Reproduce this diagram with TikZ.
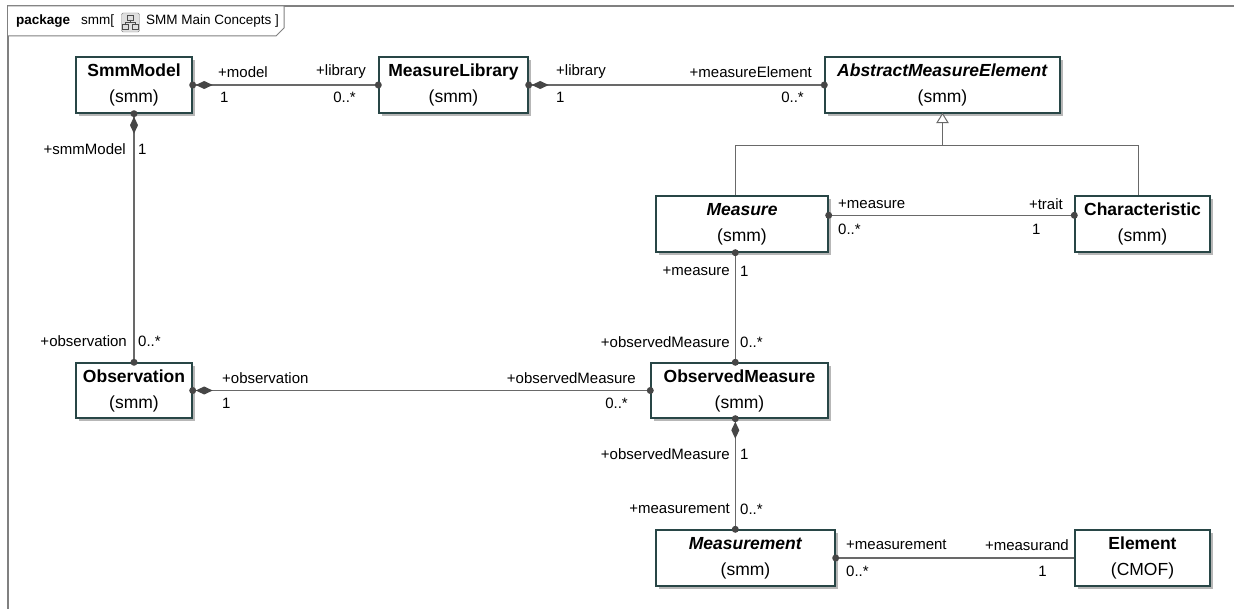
\documentclass[tikz,border=0pt]{standalone}
\usepackage{fontspec}
\setmainfont{Liberation Sans}
\usetikzlibrary{shadows,calc}
\definecolor{boxline}{RGB}{40,70,70}
\definecolor{connc}{RGB}{105,105,105}
\definecolor{ballc}{RGB}{70,70,70}
\definecolor{framec}{RGB}{128,128,128}
\tikzset{
  umlbox/.style={draw=boxline, line width=1.4pt, fill=white, minimum height=56pt,
    inner sep=0pt, align=center, font=\fontsize{17.5}{26}\selectfont,
    drop shadow={shadow xshift=3pt, shadow yshift=-3pt, fill=black!40, opacity=0.7}},
  link/.style={draw=connc, line width=1.3pt},
  lbl/.style={font=\fontsize{15}{18}\selectfont, inner sep=0pt, text=black},
  hdr/.style={font=\fontsize{13.5}{15}\selectfont, inner sep=0pt, anchor=west},
}
\newcommand{\umlball}[1]{\fill[ballc] #1 circle (3.5);}
\newcommand{\umlcomp}[2]{\begin{scope}[shift={#1}, rotate=#2]
  \fill[ballc] (0,0) circle (3.5);
  \fill[ballc] (3,0) -- (11.5,4) -- (20,0) -- (11.5,-4) -- cycle;
\end{scope}}
\begin{document}
\begin{tikzpicture}[x=1pt,y=1pt]
\useasboundingbox (0,0) rectangle (1234,-609);
% frame
\draw[framec, line width=2pt] (8,-612) -- (8,-6) -- (1237,-6);
\draw[framec, line width=1pt, fill=white] (8,-6) -- (284,-6) -- (284,-28) -- (276,-36) -- (8,-36);
\node[hdr] (hdrA) at (16,-21) {\textbf{package}};
\node[hdr] (hdrS) at (81,-21) {smm[};
\node[draw=gray, fill=gray!25, rounded corners=1.5pt, minimum width=18pt, minimum height=19pt, inner sep=0pt] (icon) at (130.5,-22.5) {};
\draw[black!70, line width=0.6pt] ($(icon.center)+(-3,7)$) rectangle ($(icon.center)+(3,2.5)$)
  ($(icon.center)+(0,2.5)$) -- ($(icon.center)+(0,0)$)
  ($(icon.center)+(-5,0)$) -- ($(icon.center)+(5,0)$)
  ($(icon.center)+(-5,0)$) -- ($(icon.center)+(-5,-2)$)
  ($(icon.center)+(5,0)$) -- ($(icon.center)+(5,-2)$)
  ($(icon.center)+(-8,-2)$) rectangle ($(icon.center)+(-2,-7)$)
  ($(icon.center)+(2,-2)$) rectangle ($(icon.center)+(8,-7)$);
\node[hdr] (hdrB) at (146,-21) {SMM Main Concepts ]};

% boxes
\node[umlbox, minimum width=116pt] (smm) at (134,-85) {\textbf{SmmModel}\\(smm)};
\node[umlbox, minimum width=149pt] (lib) at (453.5,-85) {\textbf{MeasureLibrary}\\(smm)};
\node[umlbox, minimum width=235pt] (ame) at (942.5,-85) {\textbf{\textit{AbstractMeasureElement}}\\(smm)};
\node[umlbox, minimum width=172pt] (mea) at (742,-224) {\textbf{\textit{Measure}}\\(smm)};
\node[umlbox, minimum width=135pt] (chr) at (1142.5,-224) {\textbf{Characteristic}\\(smm)};
\node[umlbox, minimum width=116pt, minimum height=55pt] (obs) at (134,-390.5) {\textbf{Observation}\\(smm)};
\node[umlbox, minimum width=177pt, minimum height=55pt] (om) at (739.5,-390.5) {\textbf{ObservedMeasure}\\(smm)};
\node[umlbox, minimum width=179pt] (mnt) at (745.5,-558) {\textbf{\textit{Measurement}}\\(smm)};
\node[umlbox, minimum width=135pt] (elm) at (1142.5,-558) {\textbf{Element}\\(CMOF)};

% SmmModel -- MeasureLibrary
\draw[link] (smm.east) -- (lib.west);
\umlcomp{(smm.east)}{0}
\umlball{(lib.west)}
\node[lbl, anchor=west] (l1) at (218,-72) {+model};
\node[lbl, anchor=west] (l2) at (220,-97) {1};
\node[lbl, anchor=east] (l3) at (366,-72) {+library};
\node[lbl, anchor=east] (l4) at (356,-97) {0..*};

% MeasureLibrary -- AbstractMeasureElement
\draw[link] (lib.east) -- (ame.west);
\umlcomp{(lib.east)}{0}
\umlball{(ame.west)}
\node[lbl, anchor=west] (l5) at (556,-72) {+library};
\node[lbl, anchor=west] (l6) at (556,-97) {1};
\node[lbl, anchor=east] (l7) at (812,-72) {+measureElement};
\node[lbl, anchor=east] (l8) at (804,-97) {0..*};

% SmmModel -- Observation
\draw[link] (smm.south) -- (obs.north);
\umlcomp{(smm.south)}{-90}
\umlball{(obs.north)}
\node[lbl, anchor=east] (l9) at (126,-149) {+smmModel};
\node[lbl, anchor=west] (l10) at (138,-149) {1};
\node[lbl, anchor=east] (l11) at (127,-341) {+observation};
\node[lbl, anchor=west] (l12) at (138,-341) {0..*};

% Observation -- ObservedMeasure
\draw[link] (obs.east) -- (om.west);
\umlcomp{(obs.east)}{0}
\umlball{(om.west)}
\node[lbl, anchor=west] (l13) at (222,-378) {+observation};
\node[lbl, anchor=west] (l14) at (222,-403) {1};
\node[lbl, anchor=east] (l15) at (636,-378) {+observedMeasure};
\node[lbl, anchor=east] (l16) at (628,-403) {0..*};

% generalization
\coordinate (gtip) at (ame.south);
\coordinate (gbase) at ($(ame.south)+(0,-9)$);
\coordinate (gjoin) at ($(ame.south)+(0,-32)$);
\coordinate (mtop) at ($(mea.north west)+(80,0)$);
\coordinate (ctop) at ($(chr.north west)+(64,0)$);
\draw[link] (gbase) -- (gjoin);
\draw[link] (mtop) |- (gjoin) -| (ctop);
\draw[link, fill=white, line width=1pt] (gtip) -- ($(gbase)+(5.5,0)$) -- ($(gbase)+(-5.5,0)$) -- cycle;

% Measure -- Characteristic
\coordinate (mright) at ($(mea.north east)+(0,-20)$);
\coordinate (cleft) at ($(chr.north west)+(0,-20)$);
\draw[link] (mright) -- (cleft);
\umlball{(mright)}
\umlball{(cleft)}
\node[lbl, anchor=west] (l17) at (838,-204) {+measure};
\node[lbl, anchor=west] (l18) at (838,-229) {0..*};
\node[lbl, anchor=east] (l19) at (1063,-204) {+trait};
\node[lbl, anchor=west] (l20) at (1032,-229) {1};

% Measure -- ObservedMeasure
\coordinate (mbot) at ($(mea.south west)+(80,0)$);
\coordinate (omtop) at (mbot |- om.north);
\draw[link] (mbot) -- (omtop);
\umlball{(mbot)}
\umlball{(omtop)}
\node[lbl, anchor=east] (l21) at (730,-271) {+measure};
\node[lbl, anchor=west] (l22) at (740,-271) {1};
\node[lbl, anchor=east] (l23) at (730,-342) {+observedMeasure};
\node[lbl, anchor=west] (l24) at (740,-342) {0..*};

% ObservedMeasure -- Measurement
\coordinate (ombot) at (mbot |- om.south);
\coordinate (mnttop) at (mbot |- mnt.north);
\draw[link] (ombot) -- (mnttop);
\umlcomp{(ombot)}{-90}
\umlball{(mnttop)}
\node[lbl, anchor=east] (l25) at (730,-454) {+observedMeasure};
\node[lbl, anchor=west] (l26) at (740,-454) {1};
\node[lbl, anchor=east] (l27) at (730,-509) {+measurement};
\node[lbl, anchor=west] (l28) at (740,-509) {0..*};

% Measurement -- Element
\draw[link] (mnt.east) -- (elm.west);
\umlball{(mnt.east)}
\node[lbl, anchor=west] (l29) at (846,-545) {+measurement};
\node[lbl, anchor=west] (l30) at (846,-571) {0..*};
\node[lbl, anchor=east] (l31) at (1069,-545) {+measurand};
\node[lbl, anchor=east] (l32) at (1047,-571) {1};
\end{tikzpicture}
\end{document}
